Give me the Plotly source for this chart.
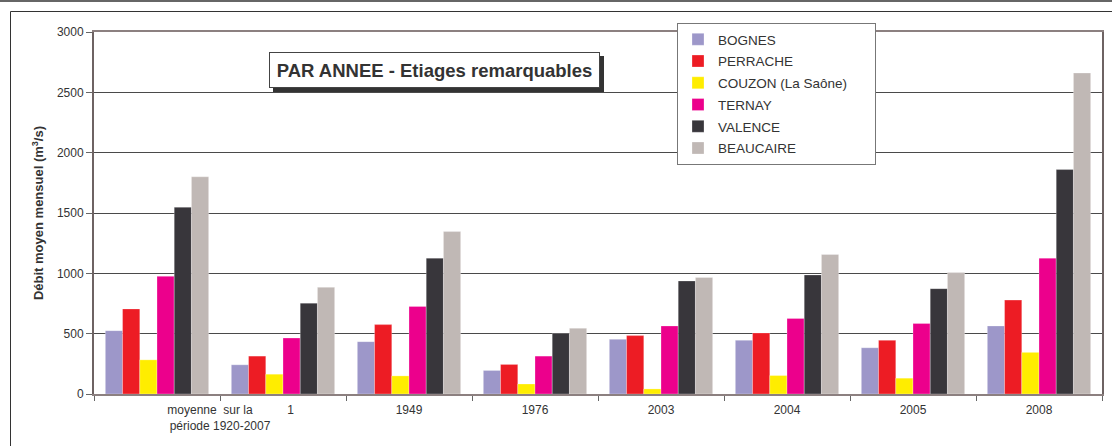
import plotly.graph_objects as go

categories = ["moyenne  sur la\u00a0\u00a0\u00a0\u00a0\u00a0\u00a0<br>période 1920-2007", "1", "1949", "1976", "2003", "2004", "2005", "2008"]
series_names = ["BOGNES", "PERRACHE", "COUZON (La Saône)", "TERNAY", "VALENCE", "BEAUCAIRE"]
bognes = [525, 242, 434, 195, 453, 445, 383, 564]
perrache = [705, 314, 575, 245, 484, 506, 445, 778]
couzon = [283, 164, 150, 83, 42, 153, 131, 345]
ternay = [975, 464, 726, 314, 564, 626, 584, 1126]
valence = [1548, 753, 1126, 503, 937, 987, 873, 1860]
beaucaire = [1800, 884, 1346, 545, 965, 1156, 1006, 2660]
y_ticks = [0, 500, 1000, 1500, 2000, 2500, 3000]

colors = ["#9D97C9", "#ED1C24", "#FFED00", "#EC008C", "#38363B", "#C0B8B5"]
series_values = [bognes, perrache, couzon, ternay, valence, beaucaire]

W, H = 1112, 446
L, R, T, B = 94, 10, 32, 52
PW, PH = W - L - R, H - T - B

def px_x(px):
    return (px - L) / PW

def px_y(py):
    return (H - B - py) / PH

x_idx = list(range(len(categories)))
label_pos = [0.5, 1.06] + x_idx[2:]

longest = max(len(n) for n in series_names)

fig = go.Figure()
for i, (name, vals, col) in enumerate(zip(series_names, series_values, colors)):
    pad = "\u00a0" * 6 if len(name) == longest else ""
    fig.add_trace(go.Bar(
        x=x_idx, y=vals, name=name + pad,
        marker=dict(color=col, line=dict(width=0.6, color="rgba(255,255,255,0.45)")),
        legendgroup=f"g{i}",
    ))

font_family = "Liberation Sans, Arial, sans-serif"

fig.update_layout(
    width=W, height=H,
    margin=dict(l=L, r=R, t=T, b=B),
    paper_bgcolor="white", plot_bgcolor="white",
    barmode="group", bargap=0.18, bargroupgap=0,
    font=dict(family=font_family, size=12, color="#333333"),
    showlegend=True,
    legend=dict(
        x=px_x(677), y=px_y(23), xanchor="left", yanchor="top",
        bgcolor="white", bordercolor="#777777", borderwidth=1,
        font=dict(size=13.5, color="#333333"),
        tracegroupgap=1.2,
    ),
    xaxis=dict(
        range=[-0.5, len(categories) - 0.5],
        tickmode="array", tickvals=label_pos, ticktext=categories,
        ticks="outside", ticklen=4, tickcolor="rgba(0,0,0,0)",
        showgrid=False, zeroline=False,
        showline=True, linecolor="#8C8080", linewidth=2, mirror=True,
        tickfont=dict(size=12, color="#333333"),
        minor=dict(tickmode="array", tickvals=[i - 0.5 for i in range(len(categories) + 1)],
                   ticks="outside", ticklen=5, tickcolor="#666666", tickwidth=1, showgrid=False),
    ),
    yaxis=dict(
        range=[0, 3000], tickmode="array", tickvals=y_ticks,
        ticks="outside", ticklen=6, tickcolor="#666666",
        showgrid=True, gridcolor="#4A4A4A", gridwidth=1, zeroline=False,
        showline=True, linecolor="#6E6363", linewidth=2, mirror=True,
        tickfont=dict(size=12, color="#333333"),
        title=dict(text="<b>Débit moyen mensuel (m<sup>3</sup>/s)</b>", font=dict(size=13, color="#333333"), standoff=10),
        automargin=False,
    ),
)

shapes = []
# top border line
shapes.append(dict(type="line", xref="paper", yref="paper", x0=px_x(-5), x1=px_x(W + 5), y0=px_y(1), y1=px_y(1),
                   line=dict(color="#666666", width=2)))
# outer frame
shapes.append(dict(type="rect", xref="paper", yref="paper", x0=px_x(10.5), x1=px_x(W + 20), y0=px_y(11.5), y1=px_y(H + 20),
                   line=dict(color="#333333", width=1), fillcolor="rgba(0,0,0,0)"))
# title shadow
shapes.append(dict(type="rect", xref="paper", yref="paper", x0=px_x(273), x1=px_x(604), y0=px_y(56), y1=px_y(92),
                   line=dict(width=0), fillcolor="#333333"))
fig.update_layout(shapes=shapes)

fig.add_annotation(
    xref="paper", yref="paper", x=px_x(434.5), y=px_y(70), xanchor="center", yanchor="middle",
    text="<b>PAR ANNEE - Etiages remarquables</b>", showarrow=False,
    font=dict(size=18.5, color="#333333", family=font_family),
    bgcolor="white", bordercolor="#444444", borderwidth=1, borderpad=3,
    width=323, height=28,
)

fig.write_html("out.html", config={"displayModeBar": False},
               post_script="document.body.style.margin='0';document.body.style.overflow='hidden';")
